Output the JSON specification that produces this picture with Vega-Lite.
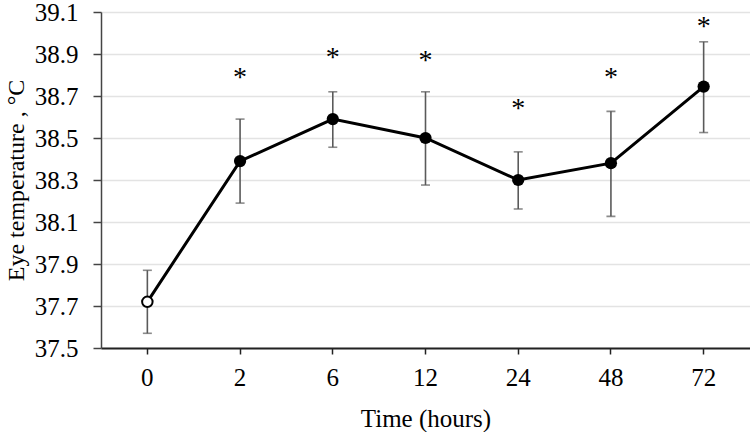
{
  "$schema": "https://vega.github.io/schema/vega-lite/v6.json",
  "autosize": {"type": "none"},
  "width": 649,
  "height": 336,
  "padding": {"left": 101, "top": 12, "right": 0, "bottom": 84},
  "background": "white",
  "config": {
    "view": {"stroke": null},
    "font": "Liberation Serif",
    "axis": {"labelFont": "Liberation Serif", "titleFont": "Liberation Serif", "labelColor": "black", "titleColor": "black", "titleFontWeight": "normal"}
  },
  "data": {
    "values": [
      {"t": "0", "mean": 37.72, "lo": 37.57, "hi": 37.87, "star": null, "open": true},
      {"t": "2", "mean": 38.39, "lo": 38.19, "hi": 38.59, "star": 38.82, "open": false},
      {"t": "6", "mean": 38.59, "lo": 38.456, "hi": 38.72, "star": 38.915, "open": false},
      {"t": "12", "mean": 38.50, "lo": 38.276, "hi": 38.72, "star": 38.90, "open": false},
      {"t": "24", "mean": 38.30, "lo": 38.162, "hi": 38.434, "star": 38.67, "open": false},
      {"t": "48", "mean": 38.38, "lo": 38.127, "hi": 38.627, "star": 38.82, "open": false},
      {"t": "72", "mean": 38.745, "lo": 38.526, "hi": 38.958, "star": 39.06, "open": false}
    ]
  },
  "encoding": {
    "x": {
      "field": "t", "type": "ordinal",
      "sort": ["0", "2", "6", "12", "24", "48", "72"],
      "scale": {"paddingInner": 0, "paddingOuter": 0},
      "axis": {
        "title": "Time (hours)", "labelAngle": 0, "labelFontSize": 25, "titleFontSize": 25,
        "domainColor": "#222222", "domainWidth": 2, "tickColor": "#222222", "tickWidth": 1.5, "tickSize": 6,
        "labelPadding": 11, "titlePadding": 16, "grid": false
      }
    }
  },
  "layer": [
    {
      "mark": {"type": "rule", "color": "#5a5a5a", "strokeWidth": 1.6},
      "encoding": {
        "y": {
          "field": "lo", "type": "quantitative",
          "scale": {"domain": [37.5, 39.1], "nice": false, "zero": false},
          "axis": {
            "title": "Eye temperature , °C", "values": [37.5, 37.7, 37.9, 38.1, 38.3, 38.5, 38.7, 38.9, 39.1],
            "format": ".1f", "labelFontSize": 25, "titleFontSize": 24,
            "grid": true, "gridColor": "#e3e3e3", "gridWidth": 1.5,
            "domainColor": "#444444", "domainWidth": 1.5, "tickColor": "#444444", "tickWidth": 1.5, "tickSize": 8,
            "labelPadding": 15, "titlePadding": 6
          }
        },
        "y2": {"field": "hi"}
      }
    },
    {
      "mark": {"type": "tick", "color": "#5a5a5a", "thickness": 1.6, "size": 9, "orient": "horizontal"},
      "encoding": {"y": {"field": "lo", "type": "quantitative"}}
    },
    {
      "mark": {"type": "tick", "color": "#5a5a5a", "thickness": 1.6, "size": 9, "orient": "horizontal"},
      "encoding": {"y": {"field": "hi", "type": "quantitative"}}
    },
    {
      "mark": {"type": "line", "color": "black", "strokeWidth": 3},
      "encoding": {"y": {"field": "mean", "type": "quantitative"}}
    },
    {
      "transform": [{"filter": "!datum.open"}],
      "mark": {"type": "point", "filled": true, "color": "black", "size": 150, "opacity": 1},
      "encoding": {"y": {"field": "mean", "type": "quantitative"}}
    },
    {
      "transform": [{"filter": "datum.open"}],
      "mark": {"type": "point", "filled": false, "fill": "white", "stroke": "black", "strokeWidth": 2, "size": 110, "opacity": 1, "fillOpacity": 1},
      "encoding": {"y": {"field": "mean", "type": "quantitative"}}
    },
    {
      "transform": [{"filter": "datum.star != null"}],
      "mark": {"type": "text", "text": "*", "fontSize": 28, "color": "black", "baseline": "middle", "dy": 7},
      "encoding": {"y": {"field": "star", "type": "quantitative"}}
    }
  ]
}
